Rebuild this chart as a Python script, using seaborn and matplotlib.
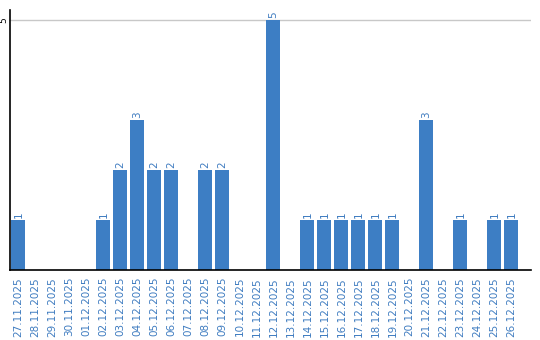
import matplotlib
matplotlib.use("Agg")
import matplotlib.pyplot as plt
import seaborn as sns
import pandas as pd

dates = ["27.11.2025", "28.11.2025", "29.11.2025", "30.11.2025", "01.12.2025",
         "02.12.2025", "03.12.2025", "04.12.2025", "05.12.2025", "06.12.2025",
         "07.12.2025", "08.12.2025", "09.12.2025", "10.12.2025", "11.12.2025",
         "12.12.2025", "13.12.2025", "14.12.2025", "15.12.2025", "16.12.2025",
         "17.12.2025", "18.12.2025", "19.12.2025", "20.12.2025", "21.12.2025",
         "22.12.2025", "23.12.2025", "24.12.2025", "25.12.2025", "26.12.2025"]
counts = [1, 0, 0, 0, 0,
          1, 2, 3, 2, 2,
          0, 2, 2, 0, 0,
          5, 0, 1, 1, 1,
          1, 1, 1, 0, 3,
          0, 1, 0, 1, 1]
y_ticks = [5]

BAR = "#3d7ec4"
TXT = "#3f7cc0"

sns.set_theme(style="white")
plt.rcParams['font.family'] = ['DejaVu Sans']

df = pd.DataFrame({"date": dates, "count": counts})

fig = plt.figure(figsize=(5.4, 3.4), dpi=100)
ax = fig.add_axes([10/540, 70/340, 521/540, 260/340])
sns.barplot(data=df, x="date", y="count", color=BAR, saturation=1,
            width=14/17, ax=ax, order=dates, linewidth=0)

ax.set_xlim(-0.5, 30.15)
ax.set_ylim(0, 5.2)
ax.set_yticks(y_ticks)
ax.set_yticklabels([str(t) for t in y_ticks], rotation=90, va="center",
                   fontsize=6.5, color="black")
ax.tick_params(axis="y", length=0, pad=1.5)
ax.tick_params(axis="x", length=0, pad=5)
for t in y_ticks:
    ax.axhline(t, color="#c8c8c8", lw=1, zorder=0)

ax.set_xticks(range(len(dates)))
ax.set_xticklabels(dates, rotation=90, fontsize=7.5, color=TXT, va="top")
ax.set_xlabel("")
ax.set_ylabel("")

for s in ["top", "right"]:
    ax.spines[s].set_visible(False)
for s in ["left", "bottom"]:
    ax.spines[s].set_visible(True)
    ax.spines[s].set_color("black")
    ax.spines[s].set_linewidth(1.2)

for i, v in enumerate(counts):
    if v > 0:
        ax.text(i, v + 0.04, str(v), rotation=90, ha="center", va="bottom",
                fontsize=7.5, color=TXT)

fig.savefig("out.png", dpi=100)
